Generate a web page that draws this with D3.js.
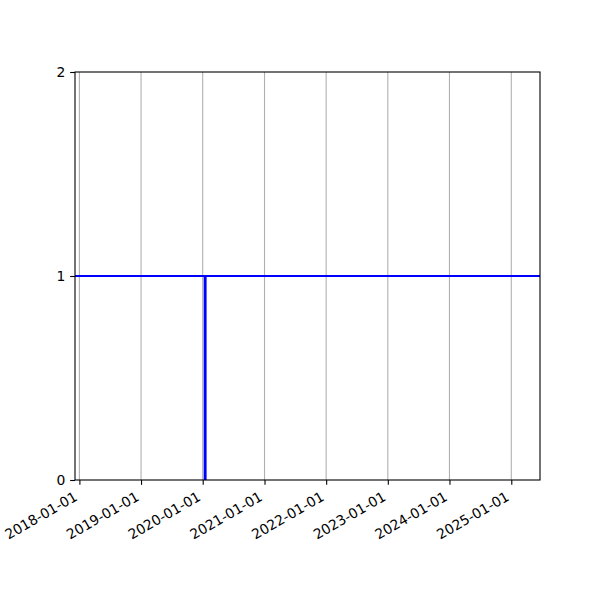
<!DOCTYPE html>
<html lang="en">
<head>
<meta charset="utf-8">
<title>Step series</title>
<script src="https://d3js.org/d3.v7.min.js"></script>
<style>
  body { margin: 0; background: #fff; }
  svg text { font-family: "DejaVu Sans", sans-serif; font-size: 13.9px; fill: #000; }
</style>
</head>
<body>
<div id="chart"></div>
<script>
// series: value is 1 everywhere except a short drop to 0 in January 2020
var dates  = ["2017-11-01", "2020-01-13", "2020-01-13", "2020-01-18", "2020-01-18", "2025-08-01"];
var values = [1, 1, 0, 0, 1, 1];

var xLimits = ["2017-12-06", "2025-06-20"];
var yTicks = [0, 1, 2];
var xTickYears = ["2018-01-01", "2019-01-01", "2020-01-01", "2021-01-01",
                  "2022-01-01", "2023-01-01", "2024-01-01", "2025-01-01"];

var parse = d3.timeParse("%Y-%m-%d");
var fmt = d3.timeFormat("%Y-%m-%d");

var W = 600, H = 600;
var margin = {top: 72, right: 60, bottom: 120, left: 75};
var width = W - margin.left - margin.right,
    height = H - margin.top - margin.bottom;

var svg = d3.select("#chart").append("svg")
    .attr("width", W).attr("height", H);
var g = svg.append("g")
    .attr("transform", "translate(" + margin.left + "," + margin.top + ")");

var x = d3.scaleTime()
  .domain(xLimits.map(parse))
  .range([0, width]);
var y = d3.scaleLinear()
  .domain([0, 2])
  .range([height, 0]);

var tickDates = xTickYears.map(parse);

// vertical grid
g.append("g").selectAll("line")
  .data(tickDates).enter().append("line")
    .attr("x1", function(d) { return x(d); })
    .attr("x2", function(d) { return x(d); })
    .attr("y1", 0).attr("y2", height)
    .attr("stroke", "#b0b0b0")
    .attr("stroke-width", 1.1);

g.append("clipPath").attr("id", "clip")
  .append("rect").attr("width", width).attr("height", height);

var pts = dates.map(function(d, i) { return {date: parse(d), value: values[i]}; });

g.append("path")
  .datum(pts)
  .attr("clip-path", "url(#clip)")
  .attr("fill", "none")
  .attr("stroke", "#0000ff")
  .attr("stroke-width", 2.08)
  .attr("stroke-linejoin", "miter")
  .attr("d", d3.line()
    .x(function(d) { return x(d.date); })
    .y(function(d) { return y(d.value); }));

// x axis
var xAxis = g.append("g")
  .attr("transform", "translate(0," + height + ")")
  .call(d3.axisBottom(x).tickValues(tickDates).tickFormat(fmt)
        .tickSizeInner(4.86).tickSizeOuter(0).tickPadding(4.86));
xAxis.select(".domain").remove();
xAxis.selectAll(".tick line").attr("stroke", "#000").attr("stroke-width", 1.1);
xAxis.selectAll(".tick text")
  .attr("text-anchor", "end")
  .attr("dy", null)
  .attr("y", null)
  .attr("transform", "translate(-1.5,19.5) rotate(-30)");

// y axis
var yAxis = g.append("g")
  .call(d3.axisLeft(y).tickValues(yTicks).tickFormat(d3.format("d"))
        .tickSizeInner(4.86).tickSizeOuter(0).tickPadding(4.86));
yAxis.select(".domain").remove();
yAxis.selectAll(".tick line").attr("stroke", "#000").attr("stroke-width", 1.1);
xAxis.attr("font-family", null).attr("font-size", null);
yAxis.attr("font-family", null).attr("font-size", null);

// frame
g.append("rect")
  .attr("width", width).attr("height", height)
  .attr("fill", "none")
  .attr("stroke", "#000")
  .attr("stroke-width", 1.1);
</script>
</body>
</html>
